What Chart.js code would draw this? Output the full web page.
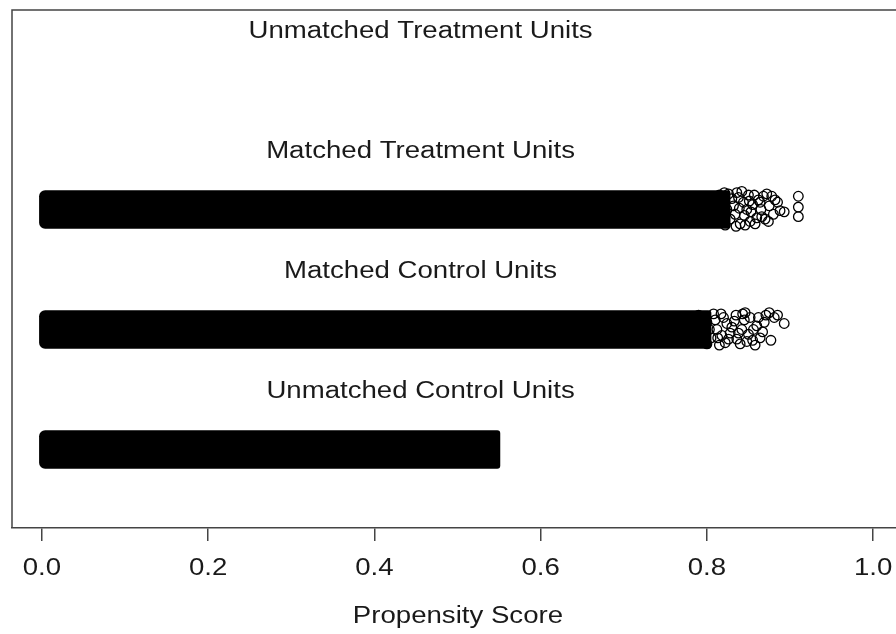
<!DOCTYPE html>
<html>
<head>
<meta charset="utf-8">
<script src="https://cdn.jsdelivr.net/npm/chart.js@4.4.1/dist/chart.umd.min.js"></script>
<style>
  html, body { margin: 0; padding: 0; background: #fff; overflow: hidden; }
  #wrap { width: 896px; height: 634px; overflow: hidden; }
  #wrap canvas { display: block; }
</style>
</head>
<body>
<div id="wrap"><canvas id="jitter" width="910" height="634"></canvas></div>
<script>
// groups, bottom to top
const groupNames = ['Unmatched Control Units', 'Matched Control Units', 'Matched Treatment Units', 'Unmatched Treatment Units'];
const groupLevels = [1, 2, 3, 4];

// solid part of each jittered band (propensity score range); unmatched treatment has no units
const bandStart = [-0.003, -0.003, -0.003, null];
const bandEnd = [0.551, 0.805, 0.828, null];

// loose points at the right end of the bands, [score, jittered level]
const matchedTreatTail = [
  [0.910, 3.11], [0.910, 3.02], [0.910, 2.94], [0.893, 2.98], [0.878, 3.11], [0.885, 3.06],
  [0.870, 2.92], [0.865, 3.00], [0.858, 2.88], [0.850, 3.12], [0.855, 3.04], [0.845, 2.95],
  [0.862, 3.08], [0.840, 2.88], [0.838, 3.10], [0.848, 3.00], [0.872, 3.13], [0.866, 2.94],
  [0.832, 3.03], [0.842, 3.15], [0.835, 2.86], [0.828, 2.92], [0.826, 3.13], [0.880, 2.96],
  [0.820, 3.05], [0.818, 2.90], [0.824, 3.00], [0.852, 2.90], [0.875, 3.03], [0.815, 3.12],
  [0.812, 2.95], [0.816, 3.08], [0.822, 2.87], [0.830, 3.09], [0.834, 2.96], [0.836, 3.14],
  [0.844, 3.06], [0.846, 2.87], [0.853, 2.98], [0.857, 3.12], [0.860, 2.93], [0.864, 3.06],
  [0.868, 3.11], [0.874, 2.90], [0.882, 3.08], [0.888, 2.99], [0.821, 3.14], [0.809, 3.02],
  [0.839, 3.01], [0.851, 3.07]
];
const matchedControlTail = [
  [0.871, 2.12], [0.881, 2.10], [0.893, 2.05], [0.877, 1.91], [0.855, 1.91], [0.867, 1.98],
  [0.845, 2.08], [0.850, 1.96], [0.840, 1.88], [0.835, 2.12], [0.830, 2.02], [0.826, 1.92],
  [0.820, 2.10], [0.815, 1.87], [0.812, 2.00], [0.808, 2.13], [0.805, 1.93], [0.860, 2.03],
  [0.858, 1.87], [0.846, 2.14], [0.838, 1.97], [0.824, 2.05], [0.818, 1.95], [0.800, 2.06],
  [0.800, 1.88], [0.862, 2.10], [0.790, 2.12], [0.795, 1.90], [0.803, 2.00], [0.810, 2.08],
  [0.817, 2.13], [0.822, 1.89], [0.828, 1.97], [0.833, 2.07], [0.842, 2.00], [0.848, 1.90],
  [0.852, 2.10], [0.856, 2.00], [0.864, 1.93], [0.869, 2.06], [0.875, 2.14], [0.885, 2.12],
  [0.790, 1.95], [0.813, 1.93], [0.836, 1.92], [0.843, 2.13]
];

const xTicks = [0, 0.2, 0.4, 0.6, 0.8, 1.0];
const xTitle = 'Propensity Score';
const labelX = 0.4555;      // labels centred on the score range
const labelOffset = 0.479;  // labels sit above each band

const textFont = '23px "Liberation Sans", Arial, sans-serif';
const stretch = 1.2;

function wideText(ctx, text, x, y) {
  ctx.save();
  ctx.translate(x, y);
  ctx.scale(stretch, 1);
  ctx.fillText(text, 0, 0);
  ctx.restore();
}

const textPlugin = {
  id: 'rText',
  afterDraw(chart) {
    const ctx = chart.ctx;
    const xs = chart.scales.x, ys = chart.scales.y, area = chart.chartArea;
    ctx.save();
    // box (top and left; bottom is the x axis line)
    ctx.strokeStyle = '#444';
    ctx.lineWidth = 1.5;
    ctx.beginPath();
    ctx.moveTo(area.left, area.bottom);
    ctx.lineTo(area.left, area.top);
    ctx.lineTo(area.right, area.top);
    ctx.lineTo(area.right, area.bottom);
    ctx.stroke();

    ctx.fillStyle = '#1a1a1a';
    ctx.font = textFont;
    ctx.textAlign = 'center';
    ctx.textBaseline = 'middle';
    groupNames.forEach((name, i) => {
      wideText(ctx, name, xs.getPixelForValue(labelX), ys.getPixelForValue(groupLevels[i] + labelOffset));
    });
    xTicks.forEach(v => {
      wideText(ctx, v.toFixed(1), xs.getPixelForValue(v), area.bottom + 41);
    });
    wideText(ctx, xTitle, (area.left + area.right) / 2, area.bottom + 89);
    ctx.restore();
  }
};

const bandData = [];
groupLevels.forEach((lv, i) => {
  if (bandStart[i] !== null) bandData.push({ x: [bandStart[i], bandEnd[i]], y: lv });
});

const toPoints = arr => arr.map(p => ({ x: p[0], y: p[1] }));

new Chart(document.getElementById('jitter'), {
  type: 'scatter',
  data: {
    datasets: [
      {
        type: 'bar',
        label: 'bands',
        indexAxis: 'y',
        data: bandData,
        backgroundColor: '#000',
        borderWidth: 0,
        borderRadius: { topLeft: 6, bottomLeft: 6, topRight: 3, bottomRight: 3 },
        borderSkipped: false,
        barThickness: 38,
        order: 2
      },
      {
        label: 'Matched Treatment Units',
        data: toPoints(matchedTreatTail),
        pointRadius: 4.8,
        pointBorderWidth: 1.3,
        pointBorderColor: '#000',
        pointBackgroundColor: 'rgba(0,0,0,0)',
        order: 1
      },
      {
        label: 'Matched Control Units',
        data: toPoints(matchedControlTail),
        pointRadius: 4.8,
        pointBorderWidth: 1.3,
        pointBorderColor: '#000',
        pointBackgroundColor: 'rgba(0,0,0,0)',
        order: 1
      }
    ]
  },
  options: {
    responsive: false,
    animation: false,
    layout: { padding: { left: 12, top: 10, right: 4, bottom: 93 } },
    plugins: { legend: { display: false }, tooltip: { enabled: false } },
    scales: {
      x: {
        type: 'linear',
        offset: false,
        min: -0.036,
        max: 1.037,
        afterBuildTicks: axis => { axis.ticks = xTicks.map(v => ({ value: v })); },
        ticks: { display: false },
        grid: { offset: false, drawOnChartArea: false, drawTicks: true, tickLength: 13, color: '#444', lineWidth: 1.5 },
        border: { display: true, color: '#444', width: 1.5 }
      },
      y: {
        type: 'linear',
        offset: false,
        min: 0.346,
        max: 4.662,
        display: false
      }
    }
  },
  plugins: [textPlugin]
});
</script>
</body>
</html>
